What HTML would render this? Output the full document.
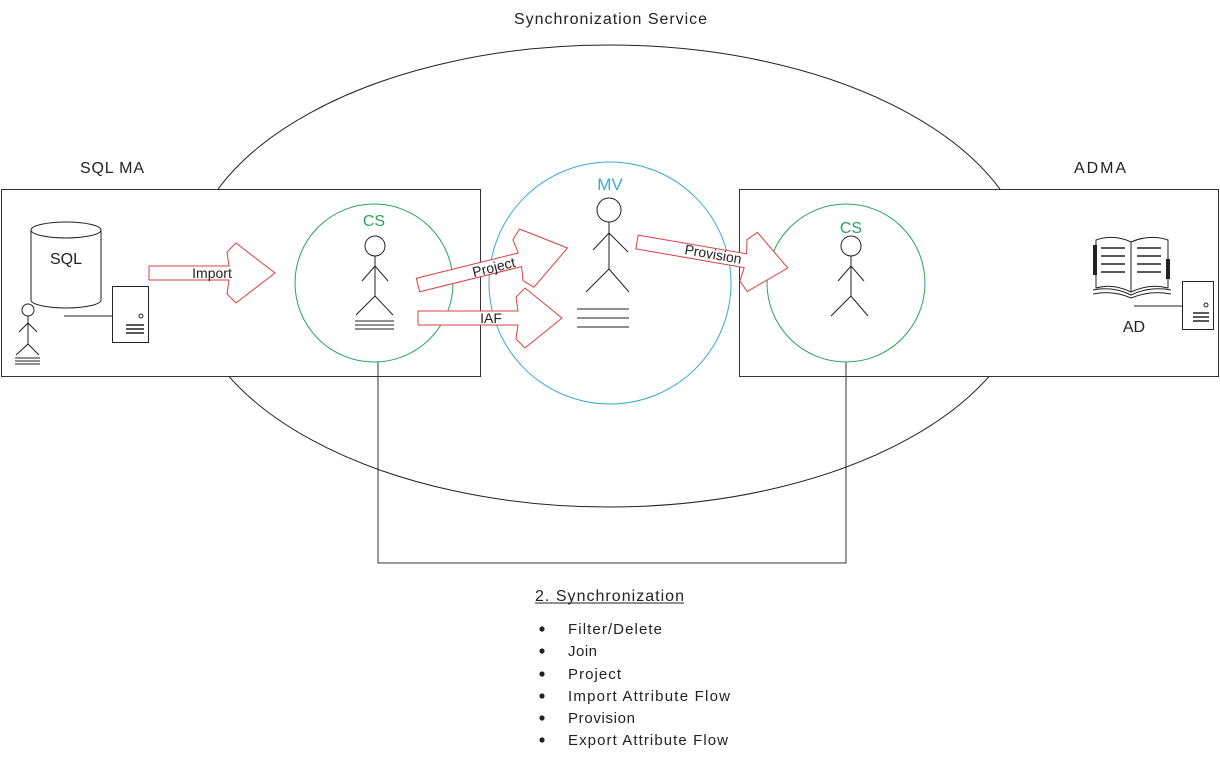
<!DOCTYPE html>
<html><head><meta charset="utf-8"><style>
html,body{margin:0;padding:0;background:#fff;}
svg{display:block;font-family:"Liberation Sans",sans-serif;}
</style></head><body>
<svg width="1220" height="761" viewBox="0 0 1220 761" xmlns="http://www.w3.org/2000/svg">
<rect width="1220" height="761" fill="#fff"/>
<text x="514" y="24" font-size="16" fill="#222" textLength="193">Synchronization Service</text>
<ellipse cx="609" cy="276" rx="422" ry="231" fill="none" stroke="#222" stroke-width="1"/>
<!-- boxes -->
<rect x="1.5" y="189.5" width="479" height="187" fill="#fff" stroke="#333"/>
<rect x="739.5" y="189.5" width="479" height="187" fill="#fff" stroke="#333"/>
<text x="80" y="173" font-size="16" fill="#222" textLength="64">SQL MA</text>
<text x="1074" y="173" font-size="16" fill="#222" textLength="52">ADMA</text>
<!-- connection line -->
<polyline points="378,362 378,563 846,563 846,362" fill="none" stroke="#333"/>
<!-- circles -->
<circle cx="374" cy="283" r="79" fill="#fff" stroke="#2aa35a"/>
<circle cx="846" cy="283" r="79" fill="#fff" stroke="#2aa35a"/>
<circle cx="610" cy="283" r="121" fill="#fff" stroke="#3aa9d4"/>
<text x="374" y="226" text-anchor="middle" font-size="16" fill="#2aa35a">CS</text>
<text x="851" y="233" text-anchor="middle" font-size="16" fill="#2aa35a">CS</text>
<text x="610" y="190" text-anchor="middle" font-size="17" fill="#3aa9d4">MV</text>
<!-- SQL cylinder -->
<path d="M31,230 L31,300 A35,8 0 0 0 101,300 L101,230" fill="#fff" stroke="#222"/>
<ellipse cx="66" cy="230" rx="35" ry="8" fill="#fff" stroke="#222"/>
<text x="66" y="264" text-anchor="middle" font-size="16" fill="#222">SQL</text>
<!-- server left -->
<line x1="64" y1="316" x2="112" y2="316" stroke="#222"/>
<rect x="112.5" y="286.5" width="36" height="56" fill="#fff" stroke="#222"/>
<circle cx="141" cy="316" r="2" fill="none" stroke="#222"/>
<g stroke="#222" stroke-width="1.5"><line x1="126" y1="325" x2="144" y2="325"/><line x1="126" y1="329" x2="144" y2="329"/><line x1="126" y1="333" x2="144" y2="333"/></g>
<!-- small figure left -->
<g stroke="#222" fill="none">
<circle cx="28" cy="310" r="6"/>
<line x1="28" y1="316" x2="28" y2="344"/>
<polyline points="19,332 28,323 37,332"/>
<polyline points="16,355 28,344 39,355"/>
<line x1="15" y1="358" x2="40" y2="358"/><line x1="15" y1="361" x2="40" y2="361"/><line x1="15" y1="364" x2="40" y2="364"/>
</g>
<!-- CS figure left -->
<g stroke="#222" fill="none">
<circle cx="375" cy="246" r="10"/>
<line x1="375" y1="256" x2="375" y2="296"/>
<polyline points="362,281 375,266 388,281"/>
<polyline points="356,315 375,296 393,315"/>
<line x1="355" y1="321" x2="394" y2="321"/><line x1="355" y1="325" x2="394" y2="325"/><line x1="355" y1="329" x2="394" y2="329"/>
</g>
<!-- MV figure -->
<g stroke="#222" fill="none">
<circle cx="609" cy="210" r="12"/>
<line x1="609" y1="222" x2="609" y2="269"/>
<polyline points="593,250 609,233 628,252"/>
<polyline points="586,292 609,269 629,292"/>
<line x1="577" y1="309" x2="629" y2="309"/><line x1="577" y1="318" x2="629" y2="318"/><line x1="577" y1="327" x2="629" y2="327"/>
</g>
<!-- right CS figure -->
<g stroke="#222" fill="none">
<circle cx="851" cy="246" r="10"/>
<line x1="851" y1="256" x2="851" y2="296"/>
<polyline points="838,281 851,266 864,281"/>
<polyline points="831,316 851,296 868,316"/>
</g>
<!-- arrows -->
<g fill="#fff" stroke="#d9403f" stroke-width="1">
<polygon transform="translate(149,273)" points="0,-7 80,-7 78,-21 87,-30 126,0 87,30 78,21 80,7 0,7"/>
<polygon transform="translate(418,285) rotate(-13.9)" points="0,-7 105,-7 103,-21 112,-30 154,0 112,30 103,21 105,7 0,7"/>
<polygon transform="translate(418,318)" points="0,-7 100,-7 98,-21 107,-30 144,0 107,30 98,21 100,7 0,7"/>
<polygon transform="translate(637,242) rotate(9.8)" points="0,-7 110,-7 108,-21 117,-30 153,0 117,30 108,21 110,7 0,7"/>
</g>
<text x="212" y="278" text-anchor="middle" font-size="14" fill="#222">Import</text>
<text x="494" y="272" text-anchor="middle" font-size="14" fill="#222" transform="rotate(-13.9 494 268)">Project</text>
<text x="491" y="323" text-anchor="middle" font-size="14" fill="#222">IAF</text>
<text x="713" y="259" text-anchor="middle" font-size="14" fill="#222" transform="rotate(9.8 713 255)">Provision</text>
<!-- book -->
<g stroke="#222" fill="#fff">
<path d="M1096,240 Q1114,234 1131,242 Q1149,234 1168,240 L1168,288 Q1150,283 1131,292 Q1113,283 1096,288 Z"/>
<path d="M1093,290 Q1113,286 1131,295 Q1150,286 1171,290" fill="none"/>
<path d="M1093,294 Q1113,290 1131,298 Q1150,290 1171,294" fill="none"/>
<line x1="1131" y1="242" x2="1131" y2="292"/>
</g>
<rect x="1093" y="245" width="4" height="30" fill="#222"/>
<rect x="1166" y="259" width="4" height="20" fill="#222"/>
<g stroke="#222" stroke-width="1.5">
<line x1="1101" y1="248" x2="1125" y2="248"/><line x1="1101" y1="256" x2="1125" y2="256"/><line x1="1101" y1="264" x2="1125" y2="264"/><line x1="1101" y1="272" x2="1125" y2="272"/>
<line x1="1137" y1="248" x2="1161" y2="248"/><line x1="1137" y1="256" x2="1161" y2="256"/><line x1="1137" y1="264" x2="1161" y2="264"/><line x1="1137" y1="272" x2="1161" y2="272"/>
</g>
<!-- right server -->
<line x1="1134" y1="306" x2="1182" y2="306" stroke="#222"/>
<rect x="1182.5" y="281.5" width="31" height="48" fill="#fff" stroke="#222"/>
<circle cx="1206" cy="305" r="2" fill="none" stroke="#222"/>
<g stroke="#222" stroke-width="1.5"><line x1="1193" y1="313" x2="1209" y2="313"/><line x1="1193" y1="317" x2="1209" y2="317"/><line x1="1193" y1="321" x2="1209" y2="321"/></g>
<text x="1134" y="332" text-anchor="middle" font-size="16" fill="#222">AD</text>
<!-- list -->
<text x="535" y="601" font-size="16" fill="#222" textLength="149">2. Synchronization</text>
<line x1="535" y1="603" x2="684" y2="603" stroke="#222"/>
<g font-size="15" fill="#222">
<text x="568" y="634" textLength="94">Filter/Delete</text>
<text x="568" y="656" textLength="29">Join</text>
<text x="568" y="679" textLength="53">Project</text>
<text x="568" y="701" textLength="162">Import Attribute Flow</text>
<text x="568" y="723" textLength="67">Provision</text>
<text x="568" y="745" textLength="160">Export Attribute Flow</text>
</g>
<g fill="#222">
<circle cx="542" cy="629" r="2.6"/><circle cx="542" cy="651" r="2.6"/><circle cx="542" cy="674" r="2.6"/>
<circle cx="542" cy="696" r="2.6"/><circle cx="542" cy="718" r="2.6"/><circle cx="542" cy="740" r="2.6"/>
</g>
</svg>
</body></html>
